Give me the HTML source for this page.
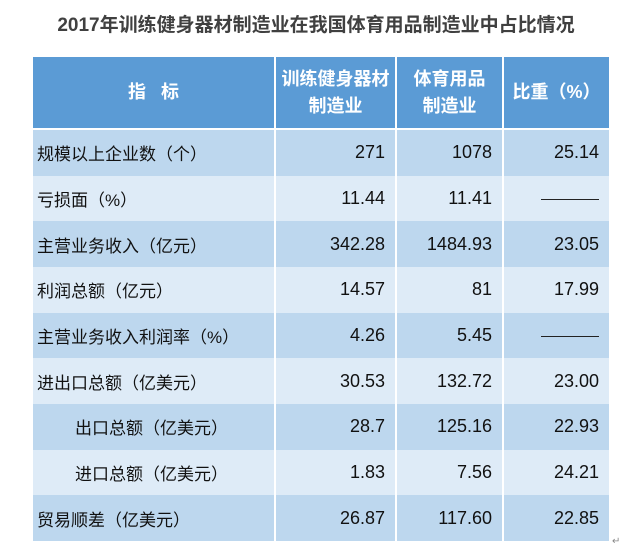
<!DOCTYPE html>
<html><head><meta charset="utf-8"><style>
body{margin:0;width:632px;height:556px;background:#fff;position:relative;font-family:"Liberation Sans","Noto Sans CJK SC",sans-serif;overflow:hidden}
.t{position:absolute;top:10px;left:0;width:632px;text-align:center;font-size:19px;font-weight:bold;color:#404040}
table{position:absolute;left:33px;top:57px;border-collapse:collapse;table-layout:fixed;width:576px}
td{padding:0 10px;font-size:17px;color:#111;height:45.67px;border-left:2px solid #fff}
td.n{font-size:18px}
td:first-child{border-left:none}
th{background:#5b9bd5;color:#fff;font-size:18px;font-weight:bold;height:71px;border-left:2px solid #fff;border-bottom:2px solid #fff;line-height:27px;padding:0}
th:first-child{border-left:none}
tr.a td{background:#bdd7ee}
tr.b td{background:#deebf7}
td.n{text-align:right}
td.l{padding-left:4px}
td.i{padding-left:42px}
.dash{display:inline-block;width:58px;border-top:1px solid #222;vertical-align:middle}
</style></head><body>
<div class="t">2017年训练健身器材制造业在我国体育用品制造业中占比情况</div>
<table>
<colgroup><col style="width:242px"><col style="width:121px"><col style="width:107px"><col style="width:106px"></colgroup>
<tr><th>指&nbsp;&nbsp;&nbsp;标</th><th>训练健身器材<br>制造业</th><th>体育用品<br>制造业</th><th>比重（%）</th></tr>
<tr class="a"><td class="l">规模以上企业数（个）</td><td class="n">271</td><td class="n">1078</td><td class="n">25.14</td></tr>
<tr class="b"><td class="l">亏损面（%）</td><td class="n">11.44</td><td class="n">11.41</td><td class="n"><span class="dash"></span></td></tr>
<tr class="a"><td class="l">主营业务收入（亿元）</td><td class="n">342.28</td><td class="n">1484.93</td><td class="n">23.05</td></tr>
<tr class="b"><td class="l">利润总额（亿元）</td><td class="n">14.57</td><td class="n">81</td><td class="n">17.99</td></tr>
<tr class="a"><td class="l">主营业务收入利润率（%）</td><td class="n">4.26</td><td class="n">5.45</td><td class="n"><span class="dash"></span></td></tr>
<tr class="b"><td class="l">进出口总额（亿美元）</td><td class="n">30.53</td><td class="n">132.72</td><td class="n">23.00</td></tr>
<tr class="a"><td class="i">出口总额（亿美元）</td><td class="n">28.7</td><td class="n">125.16</td><td class="n">22.93</td></tr>
<tr class="b"><td class="i">进口总额（亿美元）</td><td class="n">1.83</td><td class="n">7.56</td><td class="n">24.21</td></tr>
<tr class="a"><td class="l">贸易顺差（亿美元）</td><td class="n">26.87</td><td class="n">117.60</td><td class="n">22.85</td></tr>
</table>
<div style="position:absolute;left:612px;top:536px;font-size:10px;color:#888">↵</div>
</body></html>
